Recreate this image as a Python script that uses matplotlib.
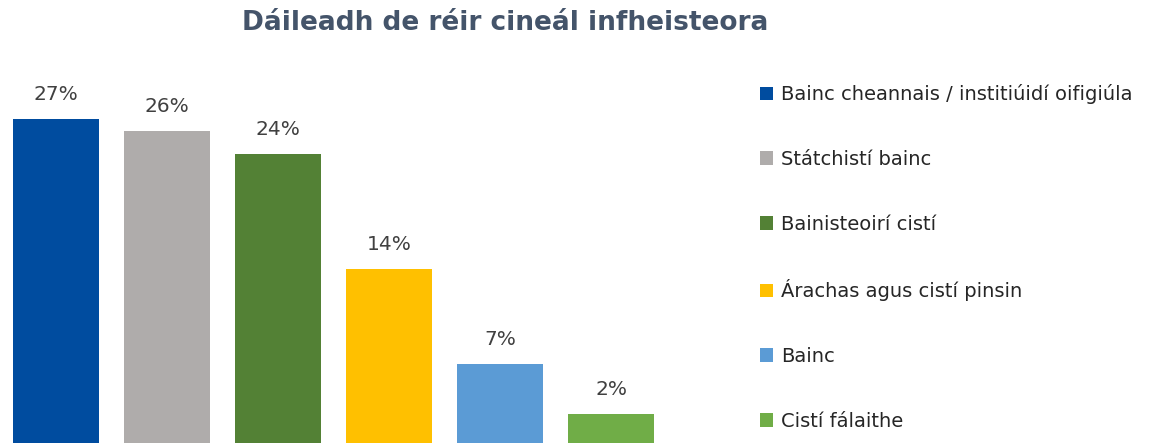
import matplotlib.pyplot as plt
from matplotlib.patches import Patch

categories = ["Bainc cheannais / institiúidí oifigiúla", "Státchistí bainc",
              "Bainisteoirí cistí", "Árachas agus cistí pinsin", "Bainc", "Cistí fálaithe"]
values = [27.0, 26.0, 24.1, 14.5, 6.6, 2.4]
labels = ["27%", "26%", "24%", "14%", "7%", "2%"]
colors = ["#004C9F", "#AFACAB", "#538135", "#FFC000", "#5B9BD5", "#70AD47"]

plt.rcParams['font.family'] = ['DejaVu Sans']

fig = plt.figure(figsize=(11.51, 4.43), dpi=100)
ax = fig.add_axes([0, 0, 666 / 1151, 383 / 443])

x = list(range(len(values)))
ax.bar(x, values, width=0.78, color=colors)
for xi, v, lab in zip(x, values, labels):
    ax.annotate(lab, (xi, v), xytext=(0, 11), textcoords="offset points",
                ha="center", va="bottom", fontsize=14.5, color="#404040")

ax.set_xlim(-0.505, 5.495)
ax.set_ylim(0, 383 / 12)
ax.axis("off")

fig.text(0.439, 0.948, "Dáileadh de réir cineál infheisteora", ha="center", va="center",
         fontsize=19, fontweight="bold", color="#44546A")

handles = [Patch(facecolor=c, edgecolor="none") for c in colors]
fig.legend(handles, categories, loc="upper left", bbox_to_anchor=(0.660, 0.81),
           frameon=False, fontsize=14, labelcolor="#262626",
           handlelength=0.7, handleheight=0.7, handletextpad=0.4,
           labelspacing=2.35, borderpad=0, borderaxespad=0)

fig.savefig("out.png", dpi=100)
